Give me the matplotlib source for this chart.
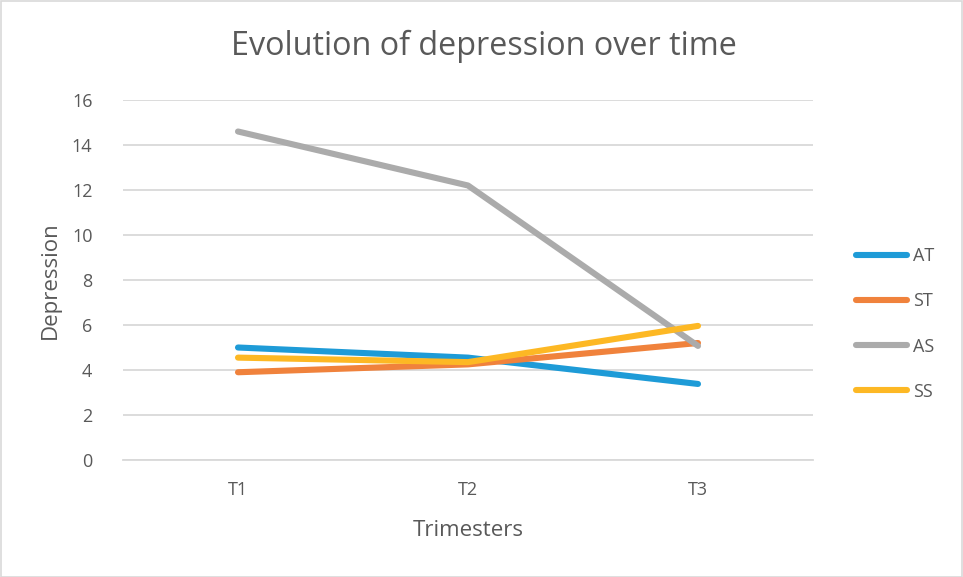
import matplotlib
matplotlib.use("Agg")
import matplotlib.pyplot as plt
from matplotlib.patches import Rectangle

plt.rcParams['font.family'] = ['Open Sans', 'DejaVu Sans']

categories = ["T1", "T2", "T3"]
series_names = ["AT", "ST", "AS", "SS"]
AT = [5.0, 4.55, 3.38]
ST = [3.9, 4.25, 5.2]
AS = [14.6, 12.2, 5.07]
SS = [4.55, 4.35, 5.96]
colors = ["#1E9BD7", "#F0823C", "#ABABAB", "#FDB824"]
yticks = [0, 2, 4, 6, 8, 10, 12, 14, 16]

W, H = 963, 577
fig = plt.figure(figsize=(W / 100, H / 100), dpi=100)
ax = fig.add_axes([123 / W, 1 - 460 / H, 690 / W, 360 / H])

txt = "#595959"
x = list(range(len(categories)))
for name, vals, c in zip(series_names, [AT, ST, AS, SS], colors):
    ax.plot(x, vals, color=c, lw=4.4, solid_capstyle="round", label=name, zorder=3)

ax.set_xlim(-0.5, 2.5)
ax.set_ylim(0, 16)
ax.set_yticks(yticks)
ax.set_xticks(x)
ax.set_xticklabels(categories)
ax.grid(axis="y", color="#D9D9D9", lw=1.3, zorder=0)
for s in ["top", "right", "left"]:
    ax.spines[s].set_visible(False)
ax.spines["bottom"].set_color("#D9D9D9")
ax.spines["bottom"].set_linewidth(1.3)
ax.tick_params(axis="both", length=0, labelsize=13, colors=txt)
ax.tick_params(axis="y", pad=22)
ax.tick_params(axis="x", pad=15)

ax.set_ylabel("Depression", fontsize=16, color=txt, labelpad=8)
ax.set_xlabel("Trimesters", fontsize=16, color=txt, labelpad=15)

fig.text(484 / W, 1 - 46 / H, "Evolution of depression over time", ha="center",
         va="center", fontsize=23.3, color=txt)

leg = ax.legend(loc="center left", bbox_to_anchor=((856 - 123) / 690, (460 - 324) / 360),
                frameon=False, fontsize=13, labelcolor=txt, handlelength=2.8,
                labelspacing=1.5, handletextpad=0.35, borderaxespad=0, borderpad=0)

fig.add_artist(Rectangle((0.5 / W, 0.5 / H), 1 - 1.5 / W, 1 - 1.5 / H,
                         transform=fig.transFigure, fill=False,
                         edgecolor="#D9D9D9", lw=1.2))

fig.savefig("out.png", dpi=100)
